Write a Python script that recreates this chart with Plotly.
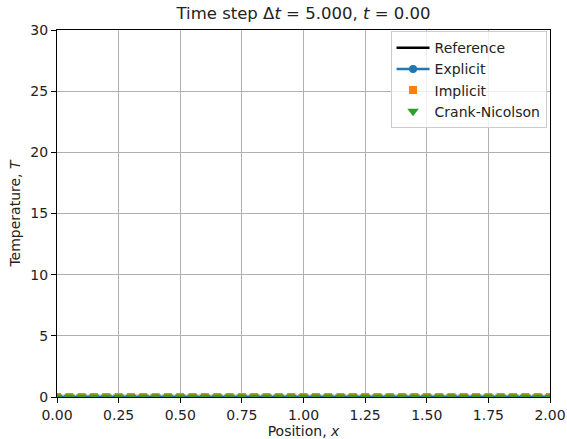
import plotly.graph_objects as go

# Grid positions (x) and temperatures at t = 0 for each scheme
positions = [0.00, 0.05, 0.10, 0.15, 0.20, 0.25, 0.30, 0.35, 0.40, 0.45,
             0.50, 0.55, 0.60, 0.65, 0.70, 0.75, 0.80, 0.85, 0.90, 0.95,
             1.00, 1.05, 1.10, 1.15, 1.20, 1.25, 1.30, 1.35, 1.40, 1.45,
             1.50, 1.55, 1.60, 1.65, 1.70, 1.75, 1.80, 1.85, 1.90, 1.95, 2.00]
reference = [0.0] * len(positions)
explicit = [0.0] * len(positions)
implicit = [0.0] * len(positions)
crank_nicolson = [0.0] * len(positions)

x_ticks = [0.00, 0.25, 0.50, 0.75, 1.00, 1.25, 1.50, 1.75, 2.00]
y_ticks = [0, 5, 10, 15, 20, 25, 30]

FONT = "DejaVu Sans"

fig = go.Figure()
fig.add_trace(go.Scatter(x=positions, y=reference, mode="lines", name="Reference",
                         line=dict(color="black", width=2.5)))
fig.add_trace(go.Scatter(x=positions, y=explicit, mode="lines+markers", name="Explicit",
                         line=dict(color="#1f77b4", width=2.5),
                         marker=dict(symbol="circle", size=8, color="#1f77b4")))
fig.add_trace(go.Scatter(x=positions, y=implicit, mode="markers", name="Implicit",
                         marker=dict(symbol="square", size=8, color="#ff7f0e")))
fig.add_trace(go.Scatter(x=positions, y=crank_nicolson, mode="markers", name="Crank-Nicolson",
                         marker=dict(symbol="triangle-down", size=10, color="#2ca02c")))

axis_common = dict(showline=True, linecolor="black", linewidth=1.2, mirror=True,
                   ticks="outside", ticklen=5, tickwidth=1, tickcolor="black",
                   showgrid=True, gridcolor="#b0b0b0", gridwidth=0.8,
                   zeroline=False, automargin=False,
                   tickfont=dict(size=14, color="#222222"))

fig.update_layout(
    width=567, height=439,
    margin=dict(l=57, r=17, t=30, b=42),
    paper_bgcolor="white", plot_bgcolor="white",
    font=dict(family=FONT, color="#222222", size=14),
    title=dict(text="Time step Δ<i>t</i> = 5.000, <i>t</i> = 0.00",
               x=0.5, xref="paper", xanchor="center",
               y=1, yref="container", yanchor="top", pad=dict(t=7),
               font=dict(size=16.5, color="#222222")),
    xaxis=dict(range=[0, 2], tickvals=x_ticks, ticktext=[f"{v:.2f}" for v in x_ticks],
               title=dict(text="Position, <i>x</i>", standoff=3, font=dict(size=14)),
               **axis_common),
    yaxis=dict(range=[0, 30], tickvals=y_ticks,
               title=dict(text="Temperature, <i>T</i>", standoff=6, font=dict(size=14)),
               **axis_common),
    legend=dict(x=0.993, y=0.997, xanchor="right", yanchor="top",
                bgcolor="rgba(255,255,255,0.8)", bordercolor="#cccccc", borderwidth=1,
                font=dict(size=14), tracegroupgap=0, itemwidth=33),
    showlegend=True,
)

fig.write_html("out.html")
